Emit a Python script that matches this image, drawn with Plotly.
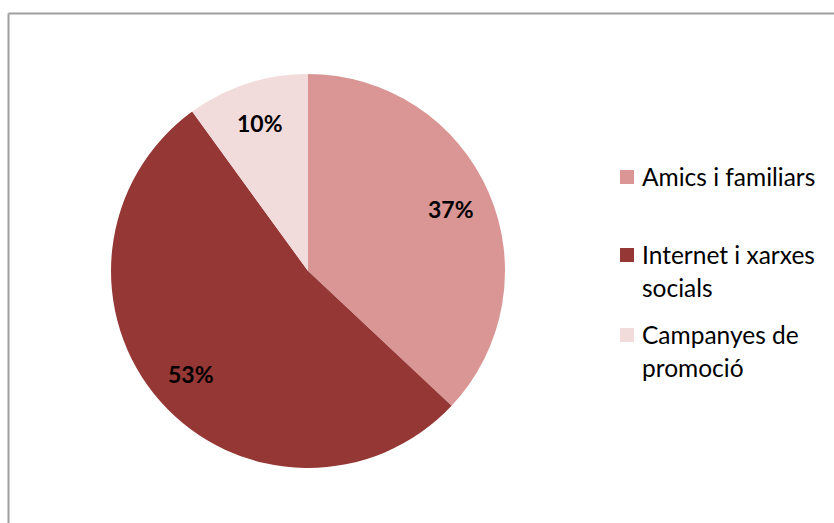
import math
import plotly.graph_objects as go

# Source of contact with the service (share of responses)
categories = ["Amics i familiars", "Internet i xarxes socials", "Campanyes de promoció"]
legend_lines = [["Amics i familiars"], ["Internet i xarxes", "socials"], ["Campanyes de", "promoció"]]
values = [37, 53, 10]
colors = ["#D99694", "#953735", "#F2DCDB"]

W, H = 834, 523
cx, cy, R = 308, 271, 197  # pie centre and radius in pixels


def px(x):
    return x / W


def py(y):
    return 1 - y / H


fig = go.Figure(
    go.Pie(
        labels=categories,
        values=values,
        sort=False,
        direction="clockwise",
        rotation=0,
        marker=dict(colors=colors, line=dict(width=0)),
        textinfo="none",
        hoverinfo="label+percent",
        showlegend=False,
        domain=dict(x=[px(cx - R), px(cx + R)], y=[py(cy + R), py(cy - R)]),
    )
)

annotations = []
shapes = []

# Percentage labels, placed along each slice's mid-angle
total = sum(values)
start = 0.0
for v in values:
    mid = (start + v / 2) / total * 2 * math.pi
    start += v
    r = 0.79 * R
    lx = cx + r * math.sin(mid)
    ly = cy - r * math.cos(mid)
    annotations.append(
        dict(
            x=px(lx), y=py(ly), xref="paper", yref="paper",
            text=f"<b>{round(v / total * 100)}%</b>",
            showarrow=False,
            font=dict(family="Lato, Carlito, Calibri, sans-serif", size=23, color="#000000"),
            xanchor="center", yanchor="middle",
        )
    )

# Legend drawn by hand: square swatches and wrapped labels
legend_top = [170, 248, 328]
line_h = 33.5
for color, lines, top in zip(colors, legend_lines, legend_top):
    shapes.append(
        dict(type="rect", xref="paper", yref="paper",
             x0=px(620), x1=px(634), y0=py(top), y1=py(top + 14),
             fillcolor=color, line=dict(width=0))
    )
    for i, line in enumerate(lines):
        annotations.append(
            dict(
                x=px(640), y=py(top + 6 + i * line_h), xref="paper", yref="paper",
                text=line, showarrow=False,
                font=dict(family="Lato, Carlito, Calibri, sans-serif", size=24.5, color="#000000"),
                xanchor="left", yanchor="middle",
            )
        )

# Chart-area frame (top and left edges visible)
frame = dict(color="#A0A0A0", width=2)
shapes.append(dict(type="line", xref="paper", yref="paper",
                   x0=px(8.5), x1=px(W + 2), y0=py(13.5), y1=py(13.5), line=frame))
shapes.append(dict(type="line", xref="paper", yref="paper",
                   x0=px(8.5), x1=px(8.5), y0=py(13.5), y1=py(H + 2), line=frame))

fig.update_layout(
    width=W, height=H,
    margin=dict(l=0, r=0, t=0, b=0),
    paper_bgcolor="#FFFFFF",
    plot_bgcolor="#FFFFFF",
    annotations=annotations,
    shapes=shapes,
)

fig.write_html("out.html")
